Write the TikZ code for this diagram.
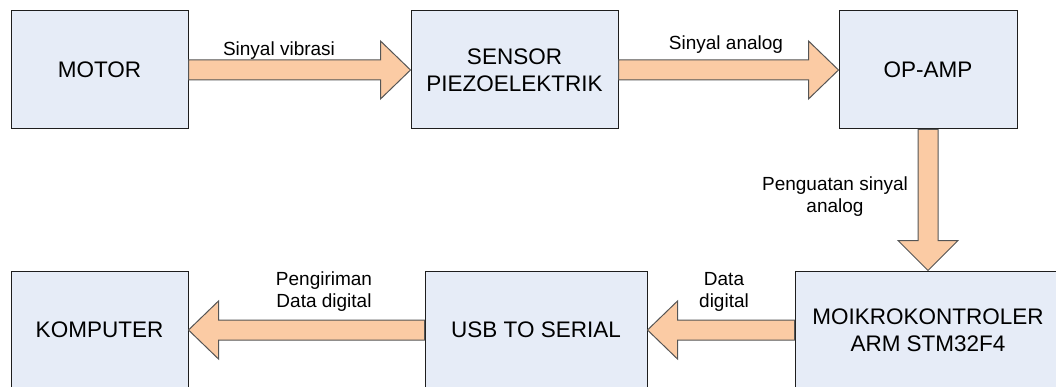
\documentclass[tikz,border=0pt]{standalone}
\usepackage{fontspec}
\setmainfont{Liberation Sans}
\usetikzlibrary{calc}
\definecolor{boxfill}{RGB}{230,236,247}
\definecolor{arrowfill}{RGB}{251,203,164}
\definecolor{edge}{RGB}{30,30,30}
\definecolor{aedge}{RGB}{85,85,85}
\tikzset{
  blockbox/.style={draw=edge, line width=1pt, fill=boxfill, inner sep=0pt,
    align=center, font=\fontsize{22.5}{27}\selectfont},
  blk/.style={draw=aedge, line width=1pt, fill=arrowfill, line join=miter},
  lbl/.style={align=center, inner sep=0pt, anchor=base, font=\fontsize{19}{22}\selectfont},
}
% horizontal block arrow from #1 to #2, head length #3 (signed, pt)
\newcommand\hblockarrow[3]{%
  \draw[blk] let \p1=(#1), \p2=(#2) in
    (\x1,\y1+10pt) -- ({\x2-(#3pt)},\y1+10pt) -- ({\x2-(#3pt)},\y1+29pt)
    -- (\x2,\y1) -- ({\x2-(#3pt)},\y1-29pt) -- ({\x2-(#3pt)},\y1-10pt)
    -- (\x1,\y1-10pt) -- cycle;}
\begin{document}
\begin{tikzpicture}[x=1pt,y=-1pt]
\useasboundingbox (0,0) rectangle (1056,387);
\clip (0,0) rectangle (1056,387);
% boxes
\node[blockbox, minimum width=177pt, minimum height=118pt] (motor) at (99.5,70) {MOTOR};
\node[blockbox, minimum width=207pt, minimum height=118pt] (sensor) at (514.5,70) {SENSOR\\PIEZOELEKTRIK};
\node[blockbox, minimum width=178pt, minimum height=118pt] (opamp) at (928,70) {OP-AMP};
\node[blockbox, minimum width=266pt, minimum height=118pt] (mcu) at (928,330) {MOIKROKONTROLER\\ARM STM32F4};
\node[blockbox, minimum width=222pt, minimum height=118pt] (usb) at (536,330) {USB TO SERIAL};
\node[blockbox, minimum width=177pt, minimum height=118pt] (komp) at (99.5,330) {KOMPUTER};
% arrows
\hblockarrow{motor.east}{sensor.west}{30}
\hblockarrow{sensor.east}{opamp.west}{30}
\hblockarrow{mcu.west}{usb.east}{-30}
\hblockarrow{usb.west}{komp.east}{-30}
\draw[blk] let \p1=(opamp.south), \p2=(mcu.north) in
  (\x1-10pt,\y1) -- (\x1-10pt,\y2+30pt) -- (\x1-30pt,\y2+30pt) -- (\x2,\y2)
  -- (\x1+30pt,\y2+30pt) -- (\x1+10pt,\y2+30pt) -- (\x1+10pt,\y1) -- cycle;
% labels
\node[lbl] (l1) at (279,56) {Sinyal vibrasi};
\node[lbl] (l2) at (726,50) {Sinyal analog};
\node[lbl] (l3) at (835,213) {Penguatan sinyal\\analog};
\node[lbl] (l4) at (724,307) {Data\\digital};
\node[lbl] (l5) at (324,307) {Pengiriman\\Data digital};
\end{tikzpicture}
\end{document}
